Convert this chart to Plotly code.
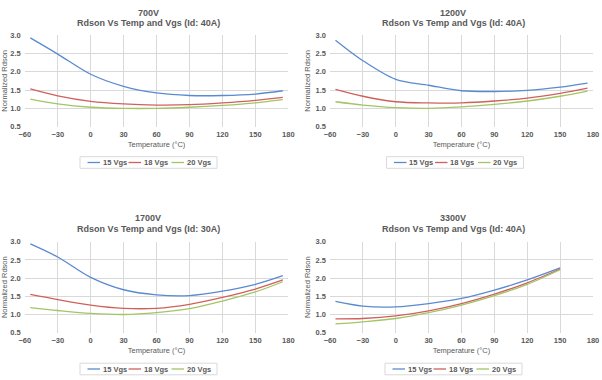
import plotly.graph_objects as go

W, H = 602, 380

series_names = ["15 Vgs", "18 Vgs", "20 Vgs"]
colors = ["#5A8AD0", "#D0605C", "#A2C565"]

temps_std = [-55, -30, 0, 30, 60, 90, 120, 150, 175]
temps_3300 = [-55, -30, 0, 30, 60, 90, 120, 150]

v700_15 = [2.92, 2.48, 1.93, 1.60, 1.42, 1.35, 1.35, 1.39, 1.48]
v700_18 = [1.53, 1.34, 1.19, 1.12, 1.09, 1.10, 1.15, 1.22, 1.30]
v700_20 = [1.25, 1.12, 1.03, 1.00, 1.00, 1.03, 1.08, 1.15, 1.24]

v1200_15 = [2.86, 2.30, 1.79, 1.63, 1.48, 1.46, 1.49, 1.58, 1.69]
v1200_18 = [1.52, 1.33, 1.18, 1.15, 1.15, 1.20, 1.28, 1.41, 1.55]
v1200_20 = [1.18, 1.09, 1.02, 1.00, 1.04, 1.11, 1.20, 1.33, 1.47]

v1700_15 = [2.94, 2.58, 2.02, 1.68, 1.54, 1.52, 1.64, 1.83, 2.07]
v1700_18 = [1.55, 1.41, 1.26, 1.17, 1.17, 1.28, 1.47, 1.70, 1.95]
v1700_20 = [1.19, 1.11, 1.03, 1.00, 1.05, 1.16, 1.37, 1.62, 1.90]

v3300_15 = [1.36, 1.23, 1.21, 1.30, 1.44, 1.67, 1.95, 2.28]
v3300_18 = [0.88, 0.89, 0.96, 1.10, 1.30, 1.56, 1.87, 2.25]
v3300_20 = [0.74, 0.80, 0.89, 1.05, 1.26, 1.52, 1.83, 2.23]

x_ticks = [-60, -30, 0, 30, 60, 90, 120, 150, 180]
y_ticks = [0.5, 1.0, 1.5, 2.0, 2.5, 3.0]

panels = [
    ("700V", "Rdson Vs Temp and Vgs (Id: 40A)", temps_std, [v700_15, v700_18, v700_20]),
    ("1200V", "Rdson Vs Temp and Vgs (Id: 40A)", temps_std, [v1200_15, v1200_18, v1200_20]),
    ("1700V", "Rdson Vs Temp and Vgs (Id: 30A)", temps_std, [v1700_15, v1700_18, v1700_20]),
    ("3300V", "Rdson Vs Temp and Vgs (Id: 40A)", temps_3300, [v3300_15, v3300_18, v3300_20]),
]

FONT = "Liberation Sans, Arial, sans-serif"
TXT = "#595959"
GRID = "#D9D9D9"

# pixel geometry: (x_left, x_right, y_top, y_bottom, title_cx, title_y1, title_y2, legend_cx, legend_cy)
geo = [
    (24.8, 288.3, 35.0, 126.7, 148, 12.7, 23.3, 148.5, 162.5),
    (330.0, 593.0, 35.0, 126.7, 453, 12.7, 23.3, 455, 162.5),
    (24.8, 288.3, 241.7, 332.7, 148, 217.7, 229.0, 148.5, 369.0),
    (330.0, 593.0, 241.7, 332.7, 453, 217.7, 229.0, 453.5, 369.0),
]
LEG_HALF_W, LEG_HALF_H = 68.5, 5.8
LEG_ITEM_OFFS = [-61, -20, 23]
LEG_LINE_LEN = 12.5


def px(x):
    return x / W


def py(y):
    return 1 - y / H


fig = go.Figure()
annotations = []
shapes = []
layout = dict(
    width=W, height=H,
    margin=dict(l=0, r=0, t=0, b=0, autoexpand=False),
    paper_bgcolor="white", plot_bgcolor="white",
    font=dict(family=FONT, size=7.5, color=TXT),
    showlegend=False,
)

for i, ((t1, t2, temps, vals), g) in enumerate(zip(panels, geo)):
    n = "" if i == 0 else str(i + 1)
    xl, xr, yt, yb, tcx, ty1, ty2, lcx, lcy = g
    for name, col, v in zip(series_names, colors, vals):
        fig.add_trace(go.Scatter(
            x=temps, y=v, mode="lines", name=name,
            line=dict(color=col, width=1.3, shape="spline", smoothing=0.9),
            xaxis=f"x{n}", yaxis=f"y{n}",
        ))
    layout[f"xaxis{n}"] = dict(
        domain=[px(xl), px(xr)], anchor=f"y{n}", automargin=False,
        range=[-60, 180], tickvals=x_ticks, showgrid=True, gridcolor=GRID, gridwidth=1,
        zeroline=False, showline=False, ticks="", ticklabelstandoff=2,
        tickfont=dict(size=7.5, color=TXT, weight="bold"),
        title=dict(text="Temperature (°C)", font=dict(size=7.5, color=TXT), standoff=3),
    )
    layout[f"yaxis{n}"] = dict(
        domain=[py(yb), py(yt)], anchor=f"x{n}", automargin=False,
        range=[0.5, 3.0], tickvals=y_ticks, tickformat=".1f", showgrid=True, gridcolor=GRID,
        gridwidth=1, zeroline=False, showline=False, ticks="", ticklabelstandoff=3,
        tickfont=dict(size=7.5, color=TXT, weight="bold"),
        title=dict(text="Normalized Rdson", font=dict(size=7.5, color=TXT), standoff=3),
    )
    for txt, ty in ((t1, ty1), (t2, ty2)):
        annotations.append(dict(text=f"<b>{txt}</b>", x=px(tcx), y=py(ty), xref="paper", yref="paper",
                                showarrow=False, xanchor="center", yanchor="middle",
                                font=dict(size=9, color=TXT)))
    shapes.append(dict(type="rect", xref="paper", yref="paper",
                       x0=px(lcx - LEG_HALF_W), x1=px(lcx + LEG_HALF_W),
                       y0=py(lcy + LEG_HALF_H), y1=py(lcy - LEG_HALF_H),
                       line=dict(color=GRID, width=1), fillcolor="white", layer="below"))
    for name, col, off in zip(series_names, colors, LEG_ITEM_OFFS):
        x0 = lcx + off
        shapes.append(dict(type="line", xref="paper", yref="paper",
                           x0=px(x0), x1=px(x0 + LEG_LINE_LEN), y0=py(lcy), y1=py(lcy),
                           line=dict(color=col, width=1.3)))
        annotations.append(dict(text=name, x=px(x0 + LEG_LINE_LEN + 0.5), y=py(lcy),
                                xref="paper", yref="paper", showarrow=False,
                                xanchor="left", yanchor="middle",
                                font=dict(size=7.5, color=TXT, weight="bold")))

layout["annotations"] = annotations
layout["shapes"] = shapes
fig.update_layout(**layout)
fig.write_html(
    "out.html",
    config={"displayModeBar": False},
    post_script="document.body.style.margin='0px';document.body.style.overflow='hidden';",
)
